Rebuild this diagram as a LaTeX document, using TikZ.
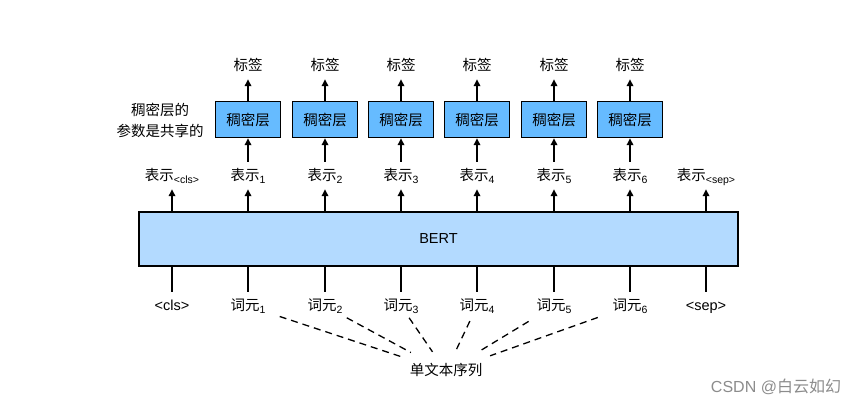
\documentclass[tikz,border=0pt]{standalone}
\usepackage{fontspec}
\setmainfont{Liberation Sans}
\newfontfamily\cjk{Noto Sans CJK SC}
\usetikzlibrary{arrows.meta,calc}
\newcommand{\subt}[1]{\raisebox{-3pt}{\rmfamily\fontsize{10.5}{10.5}\selectfont #1}}
\definecolor{densec}{HTML}{66BBFF}
\definecolor{bertc}{HTML}{B3DAFF}
\begin{document}
\begin{tikzpicture}[x=1pt,y=-1pt,
  lab/.style={inner sep=0pt, text height=11pt, text depth=3pt, font={\cjk\fontsize{14.5}{17}\selectfont}},
  side/.style={inner sep=0pt, align=center, font={\cjk\fontsize{14.5}{21}\selectfont}},
  dense/.style={draw, line width=1.4pt, fill=densec, minimum width=65pt, minimum height=36pt, inner sep=0pt, font={\cjk\fontsize{14.5}{17}\selectfont}},
  bertbox/.style={draw, line width=1.4pt, fill=bertc, minimum width=599pt, minimum height=54pt, inner sep=0pt, font={\fontsize{14.5}{17}\selectfont}},
  arr/.style={-{Triangle[length=7pt,width=6.5pt]}, line width=1.6pt},
  ln/.style={line width=1.6pt},
  dsh/.style={dash pattern=on 7pt off 5pt, line width=1.3pt},
  wm/.style={inner sep=0pt, text=black!45, font={\fontsize{16}{18}\selectfont}}]
\useasboundingbox (0,0) rectangle (859,407);
\fill[white] (0,0) rectangle (859,407);

\node[bertbox] (bert) at (438.5,239) {BERT};

\node[side] (note) at (160,120) {稠密层的\\参数是共享的};

\foreach \i/\x in {1/248,2/325,3/401,4/477,5/554,6/630} {
  \node[dense] (d\i) at (\x,119.5) {稠密层};
  \node[lab] (l\i) at (\x,66.5) {标签};
  \node[lab] (r\i) at (\x,176.5) {表示\subt{\i}};
  \node[lab] (t\i) at (\x,306) {词元\subt{\i}};
}
\node[lab] (r0) at (172,176.5) {表示\subt{<cls>}};
\node[lab] (r7) at (706,176.5) {表示\subt{<sep>}};
\node[lab,font={\fontsize{14.5}{17}\selectfont}] (t0) at (172,306) {<cls>};
\node[lab,font={\fontsize{14.5}{17}\selectfont}] (t7) at (706,306) {<sep>};

\node[lab] (seq) at (446,371.5) {单文本序列};

\foreach \i in {1,...,6} {
  \draw[arr, shorten >=5.5pt] (d\i.north) -- (l\i.south);
  \draw[arr, shorten <=7.5pt] (r\i.north) -- (d\i.south);
}
\foreach \i in {0,...,7} {
  \draw[arr, shorten >=5.5pt] (r\i.south |- bert.north) -- (r\i.south);
  \draw[ln, shorten >=7pt] (t\i.north |- bert.south) -- (t\i.north);
}

\foreach \i/\a/\b in {1/0.16/0.77, 2/0.18/0.71, 3/0.18/0.70, 4/0.23/0.70, 5/0.235/0.71, 6/0.175/0.76} {
  \draw[dsh] ($(t\i)!\a!(seq)$) -- ($(t\i)!\b!(seq)$);
}

\node[wm] (mark) at (776,386.5) {CSDN @{\cjk 白云如幻}};
\end{tikzpicture}
\end{document}
